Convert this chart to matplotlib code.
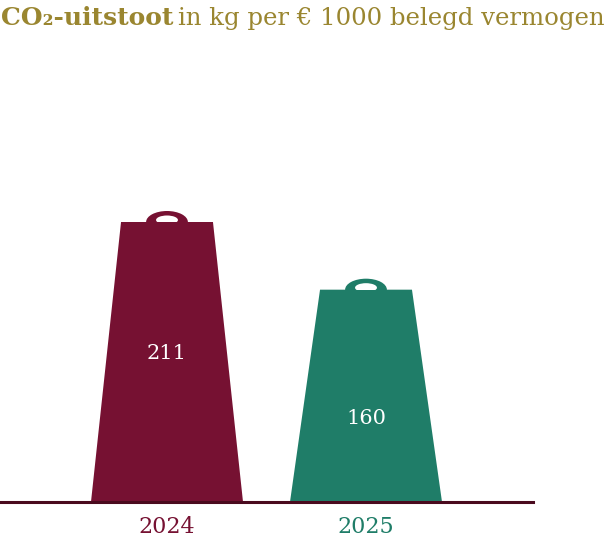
import matplotlib
matplotlib.use("Agg")
import matplotlib.pyplot as plt
from matplotlib.patches import Polygon, Ellipse

years = ["2024", "2025"]
values = [211, 160]
colors = ["#761132", "#1f7d68"]
label_y_frac = [0.53, 0.395]

W, H = 616, 545
fig = plt.figure(figsize=(W/100, H/100), dpi=100)
base_px, top_px = 502, 40
ax = fig.add_axes([0, (H-base_px)/H, 533/W, (base_px-top_px)/H])
ppu = 280/211
ax.set_ylim(0, (base_px-top_px)/ppu)
ax.set_xlim(-167/199, (533-167)/199)
ax.axis("off")
ax.axhline(0, color="#4a0a1e", lw=2.2, clip_on=False)

bw, tw = 0.382, 0.231
for i, (v, c) in enumerate(zip(values, colors)):
    ax.add_patch(Polygon([(i-bw, 0), (i+bw, 0), (i+tw, v), (i-tw, v)], closed=True, color=c, lw=0))
    ax.add_patch(Ellipse((i, v), 0.21, 22/ppu, color=c, lw=0))
    ax.add_patch(Ellipse((i, v+2/ppu), 0.11, 9/ppu, color="white", lw=0))
    ax.add_patch(Polygon([(i-0.12, v-5/ppu), (i+0.12, v-5/ppu), (i+0.12, v), (i-0.12, v)], color=c, lw=0))
    ax.text(i, v*label_y_frac[i], str(v), color="white", ha="center", va="center",
            fontsize=15, family="DejaVu Serif")
    ax.text(i, -25/ppu, years[i], color=c, ha="center", va="center", fontsize=16, family="DejaVu Serif")

fig.text(1/W, 1-18/H, "CO₂-uitstoot", color="#9a8630", fontsize=18, fontweight="bold",
         family="DejaVu Serif", va="center", ha="left")
fig.text(178/W, 1-18/H, "in kg per € 1000 belegd vermogen", color="#9a8630", fontsize=17.6,
         family="DejaVu Serif", va="center", ha="left")
fig.savefig("out.png", dpi=100)
